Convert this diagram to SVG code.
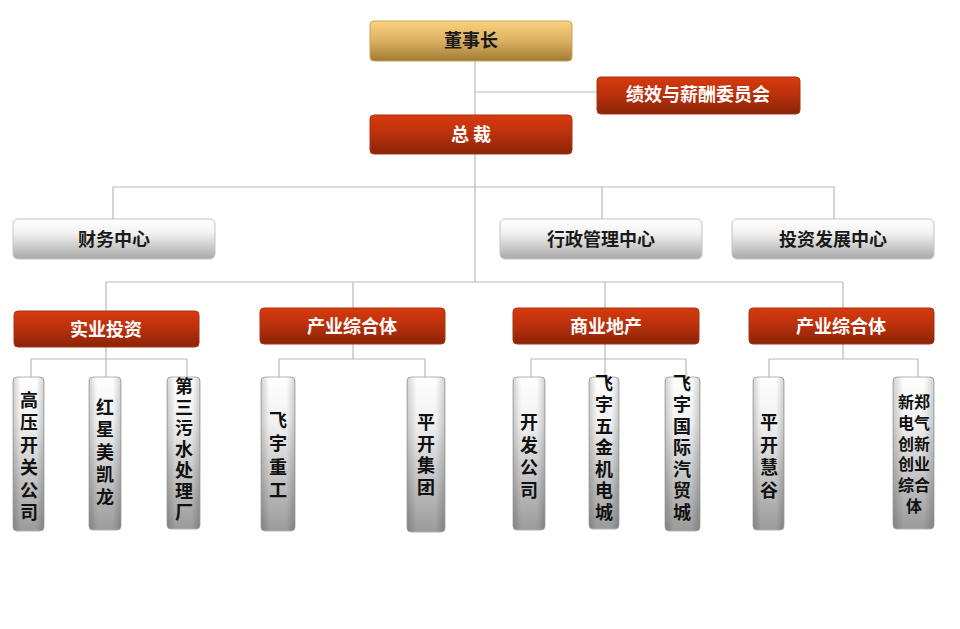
<svg xmlns="http://www.w3.org/2000/svg" width="960" height="629" viewBox="0 0 960 629">
<defs>
<linearGradient id="gold" x1="0" y1="0" x2="0" y2="1"><stop offset="0" stop-color="#f8d27e"/><stop offset="0.5" stop-color="#dcb062"/><stop offset="1" stop-color="#a07a34"/></linearGradient>
<linearGradient id="red" x1="0" y1="0" x2="0" y2="1"><stop offset="0" stop-color="#d83a0e"/><stop offset="0.5" stop-color="#b8300c"/><stop offset="1" stop-color="#8a2408"/></linearGradient>
<linearGradient id="gray" x1="0" y1="0" x2="0" y2="1"><stop offset="0" stop-color="#ffffff"/><stop offset="0.35" stop-color="#f2f2f2"/><stop offset="1" stop-color="#a8a8a8"/></linearGradient>
<linearGradient id="vgray" x1="0" y1="0" x2="0" y2="1"><stop offset="0" stop-color="#ffffff"/><stop offset="0.3" stop-color="#f0f0f0"/><stop offset="1" stop-color="#9a9a9a"/></linearGradient>
<linearGradient id="vside" x1="0" y1="0" x2="1" y2="0"><stop offset="0" stop-color="#000" stop-opacity="0.18"/><stop offset="0.25" stop-color="#000" stop-opacity="0"/><stop offset="0.75" stop-color="#000" stop-opacity="0"/><stop offset="1" stop-color="#000" stop-opacity="0.18"/></linearGradient>
</defs>
<style>
.ln{stroke:#b9b9b9;stroke-width:1.2;fill:none}
.g{fill:url(#gold);stroke:#c9a25a;stroke-width:1}
.r{fill:url(#red);stroke:#a83512;stroke-width:1}
.h{fill:url(#gray);stroke:#c4c4c4;stroke-width:1}
.v{fill:url(#vgray);stroke:#b4b4b4;stroke-width:1}
.vs{fill:url(#vside)}
text{font-family:"Noto Sans CJK SC","Noto Sans CJK JP",sans-serif;font-weight:bold;text-anchor:middle}
.tw{fill:#ffffff;font-size:18px}
.tb{fill:#1a1a1a;font-size:18px}
.tv{fill:#111;font-size:18px}
.tn{fill:#111;font-size:16px}
</style>
<g id="connectors">
<path class="ln" d="M475 61V115M475 92H597"/>
<path class="ln" d="M475 154V282M113 187H835M113 187V219M602 187V219M834 187V219"/>
<path class="ln" d="M106 282H843M106 282V311M353 282V308M605 282V308M843 282V308"/>
<path class="ln" d="M106 347V359M31 359H187M31 359V377M106 359V377M187 359V377"/>
<path class="ln" d="M353 344V359M279 359H425M279 359V377M425 359V377"/>
<path class="ln" d="M605 344V359M531 359H686M531 359V377M605 359V377M686 359V377"/>
<path class="ln" d="M843 344V359M769 359H918M769 359V377M918 359V377"/>
</g>
<g id="n-chairman"><rect class="g" x="370" y="21" width="202" height="40" rx="4"/><text class="tb" x="471" y="47">董事长</text></g>
<g id="n-committee"><rect class="r" x="597" y="77" width="203" height="37" rx="4"/><text class="tw" x="698" y="101" font-size="16">绩效与薪酬委员会</text></g>
<g id="n-president"><rect class="r" x="370" y="115" width="202" height="39" rx="4"/><text class="tw" x="471" y="141" xml:space="preserve">总 裁</text></g>
<g id="n-finance"><rect class="h" x="13" y="219" width="202" height="40" rx="5"/><text class="tb" x="114" y="246">财务中心</text></g>
<g id="n-admin"><rect class="h" x="500" y="219" width="202" height="40" rx="5"/><text class="tb" x="601" y="246">行政管理中心</text></g>
<g id="n-invest"><rect class="h" x="732" y="219" width="202" height="40" rx="5"/><text class="tb" x="833" y="246">投资发展中心</text></g>
<g id="n-shiye"><rect class="r" x="14" y="311" width="185" height="36" rx="4"/><text class="tw" x="106" y="336">实业投资</text></g>
<g id="n-chanye1"><rect class="r" x="260" y="308" width="185" height="36" rx="4"/><text class="tw" x="352" y="333">产业综合体</text></g>
<g id="n-shangye"><rect class="r" x="513" y="308" width="186" height="36" rx="4"/><text class="tw" x="606" y="333">商业地产</text></g>
<g id="n-chanye2"><rect class="r" x="749" y="308" width="185" height="36" rx="4"/><text class="tw" x="841" y="333">产业综合体</text></g>

<g id="n-gaoya"><rect class="v" x="13" y="377" width="31" height="154" rx="4"/><rect class="vs" x="13" y="377" width="31" height="154" rx="4"/>
<text class="tv" x="29" y="407">高</text><text class="tv" x="29" y="429">压</text><text class="tv" x="29" y="452">开</text><text class="tv" x="29" y="474">关</text><text class="tv" x="29" y="497">公</text><text class="tv" x="29" y="519">司</text></g>
<g id="n-hongxing"><rect class="v" x="89" y="377" width="32" height="153" rx="4"/><rect class="vs" x="89" y="377" width="32" height="153" rx="4"/>
<text class="tv" x="105" y="414">红</text><text class="tv" x="105" y="436">星</text><text class="tv" x="105" y="459">美</text><text class="tv" x="105" y="481">凯</text><text class="tv" x="105" y="504">龙</text></g>
<g id="n-wushui"><rect class="v" x="167" y="377" width="33" height="152" rx="4"/><rect class="vs" x="167" y="377" width="33" height="152" rx="4"/>
<text class="tv" x="184" y="393">第</text><text class="tv" x="184" y="414">三</text><text class="tv" x="184" y="435">污</text><text class="tv" x="184" y="456">水</text><text class="tv" x="184" y="477">处</text><text class="tv" x="184" y="498">理</text><text class="tv" x="184" y="519">厂</text></g>
<g id="n-feiyuzg"><rect class="v" x="261" y="377" width="34" height="154" rx="4"/><rect class="vs" x="261" y="377" width="34" height="154" rx="4"/>
<text class="tv" x="278" y="427">飞</text><text class="tv" x="278" y="450">宇</text><text class="tv" x="278" y="474">重</text><text class="tv" x="278" y="497">工</text></g>
<g id="n-pingkaijt"><rect class="v" x="407" y="377" width="38" height="155" rx="4"/><rect class="vs" x="407" y="377" width="38" height="155" rx="4"/>
<text class="tv" x="426" y="429">平</text><text class="tv" x="426" y="451">开</text><text class="tv" x="426" y="472">集</text><text class="tv" x="426" y="494">团</text></g>
<g id="n-kaifa"><rect class="v" x="513" y="377" width="32" height="153" rx="4"/><rect class="vs" x="513" y="377" width="32" height="153" rx="4"/>
<text class="tv" x="529" y="429">开</text><text class="tv" x="529" y="452">发</text><text class="tv" x="529" y="474">公</text><text class="tv" x="529" y="497">司</text></g>
<g id="n-wujin"><rect class="v" x="589" y="377" width="30" height="152" rx="4"/><rect class="vs" x="589" y="377" width="30" height="152" rx="4"/>
<text class="tv" x="604" y="390">飞</text><text class="tv" x="604" y="411">宇</text><text class="tv" x="604" y="433">五</text><text class="tv" x="604" y="454">金</text><text class="tv" x="604" y="476">机</text><text class="tv" x="604" y="497">电</text><text class="tv" x="604" y="519">城</text></g>
<g id="n-qimao"><rect class="v" x="665" y="377" width="35" height="154" rx="4"/><rect class="vs" x="665" y="377" width="35" height="154" rx="4"/>
<text class="tv" x="682" y="390">飞</text><text class="tv" x="682" y="411">宇</text><text class="tv" x="682" y="433">国</text><text class="tv" x="682" y="454">际</text><text class="tv" x="682" y="476">汽</text><text class="tv" x="682" y="497">贸</text><text class="tv" x="682" y="519">城</text></g>
<g id="n-huigu"><rect class="v" x="753" y="377" width="31" height="153" rx="4"/><rect class="vs" x="753" y="377" width="31" height="153" rx="4"/>
<text class="tv" x="769" y="429">平</text><text class="tv" x="769" y="452">开</text><text class="tv" x="769" y="474">慧</text><text class="tv" x="769" y="497">谷</text></g>
<g id="n-xinzheng"><rect class="v" x="893" y="377" width="41" height="152" rx="4"/><rect class="vs" x="893" y="377" width="41" height="152" rx="4"/>
<text class="tn" x="914" y="408">新郑</text><text class="tn" x="914" y="429">电气</text><text class="tn" x="914" y="450">创新</text><text class="tn" x="914" y="470">创业</text><text class="tn" x="914" y="491">综合</text><text class="tn" x="914" y="512">体</text></g>
</svg>
